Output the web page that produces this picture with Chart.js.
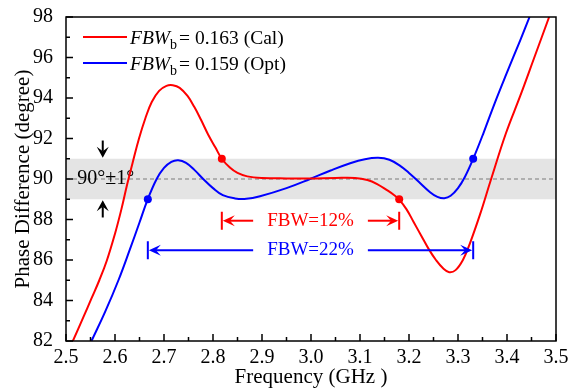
<!DOCTYPE html>
<html>
<head>
<meta charset="utf-8">
<script src="https://cdn.jsdelivr.net/npm/chart.js@4.4.1/dist/chart.umd.min.js"></script>
<style>
  html, body { margin: 0; padding: 0; background: #fff; }
</style>
</head>
<body>
<canvas id="phaseChart" width="580" height="392"></canvas>
<script>
// values
const calFreq  = [2.514, 2.535, 2.552, 2.568, 2.583, 2.600, 2.613, 2.625, 2.637, 2.649, 2.662, 2.675, 2.690, 2.705, 2.718, 2.732, 2.748, 2.762, 2.775, 2.790, 2.805, 2.818, 2.835, 2.850, 2.870, 2.900, 2.950, 3.000, 3.050, 3.090, 3.115, 3.135, 3.155, 3.170, 3.180, 3.195, 3.210, 3.225, 3.240, 3.255, 3.270, 3.282, 3.295, 3.310, 3.324, 3.345, 3.367, 3.398, 3.427, 3.455, 3.486];
const calPhase = [82.0, 83.15, 84.1, 85.0, 85.95, 87.3, 88.5, 89.75, 90.9, 92.0, 93.0, 93.8, 94.35, 94.6, 94.63, 94.5, 94.1, 93.55, 92.95, 92.2, 91.55, 91.0, 90.55, 90.3, 90.13, 90.05, 90.03, 90.03, 90.05, 90.05, 89.95, 89.75, 89.45, 89.2, 88.98, 88.5, 87.85, 87.2, 86.55, 86.0, 85.58, 85.4, 85.5, 86.0, 86.8, 88.25, 89.95, 92.27, 94.1, 95.95, 98.0];
const optFreq  = [2.552, 2.580, 2.607, 2.630, 2.650, 2.666, 2.685, 2.700, 2.715, 2.729, 2.745, 2.762, 2.780, 2.800, 2.820, 2.845, 2.868, 2.896, 2.950, 2.998, 3.040, 3.080, 3.110, 3.137, 3.160, 3.182, 3.200, 3.216, 3.243, 3.258, 3.272, 3.285, 3.300, 3.314, 3.331, 3.352, 3.375, 3.399, 3.427, 3.446];
const optPhase = [82.0, 83.45, 85.0, 86.5, 87.85, 88.95, 90.0, 90.55, 90.85, 90.93, 90.8, 90.45, 90.0, 89.55, 89.2, 89.04, 89.02, 89.15, 89.55, 90.0, 90.42, 90.78, 90.98, 91.05, 90.95, 90.65, 90.3, 89.95, 89.35, 89.12, 89.05, 89.17, 89.55, 90.1, 91.0, 92.27, 93.75, 95.2, 96.85, 98.0];

// band edge markers
const calMarkFreq  = [2.818, 3.180];
const calMarkPhase = [91, 89];
const optMarkFreq  = [2.667, 3.331];
const optMarkPhase = [89, 91];

const seriesNames  = ["= 0.163 (Cal)", "= 0.159 (Opt)"];
const seriesColors = ["#ff0000", "#0000ff"];

const xTicks = [2.5, 2.6, 2.7, 2.8, 2.9, 3.0, 3.1, 3.2, 3.3, 3.4, 3.5];
const yTicks = [82, 84, 86, 88, 90, 92, 94, 96, 98];

const bandLimits  = [89, 91];
const targetPhase = 90;
const bandLabel   = "90°±1°";
const fbwLabels   = ["FBW=12%", "FBW=22%"];
const fbwEdges    = [[2.818, 3.180], [2.667, 3.331]];
const fbwLevels   = [87.94, 86.48];

const SERIF = "'Liberation Serif', 'Times New Roman', serif";

const toPts = (fs, ps) => fs.map((f, i) => ({ x: f, y: ps[i] }));

function arrow(ctx, x0, y0, x1, y1, color, len = 12, half = 5.5) {
  const ang = Math.atan2(y1 - y0, x1 - x0);
  ctx.strokeStyle = color;
  ctx.fillStyle = color;
  ctx.lineWidth = 2;
  ctx.beginPath();
  ctx.moveTo(x0, y0);
  ctx.lineTo(x1 - Math.cos(ang) * len * 0.6, y1 - Math.sin(ang) * len * 0.6);
  ctx.stroke();
  ctx.save();
  ctx.translate(x1, y1);
  ctx.rotate(ang);
  ctx.beginPath();
  ctx.moveTo(0, 0);
  ctx.lineTo(-len, -half);
  ctx.lineTo(-len * 0.6, 0);
  ctx.lineTo(-len, half);
  ctx.closePath();
  ctx.fill();
  ctx.restore();
}

const decor = {
  id: "decor",
  beforeDatasetsDraw(chart) {
    const { ctx, chartArea: a, scales: { x, y } } = chart;
    ctx.save();
    const yHi = y.getPixelForValue(bandLimits[1]);
    const yLo = y.getPixelForValue(bandLimits[0]);
    ctx.fillStyle = "#e4e4e4";
    ctx.fillRect(a.left, yHi, a.right - a.left, yLo - yHi);

    const y90 = y.getPixelForValue(targetPhase);
    ctx.strokeStyle = "#7a7a7a";
    ctx.lineWidth = 1.2;
    ctx.setLineDash([4, 3]);
    ctx.beginPath();
    ctx.moveTo(a.left, y90);
    ctx.lineTo(a.right, y90);
    ctx.stroke();
    ctx.setLineDash([]);

    ctx.fillStyle = "#000";
    ctx.font = "20px " + SERIF;
    ctx.textBaseline = "middle";
    ctx.textAlign = "left";
    ctx.fillText(bandLabel, x.getPixelForValue(2.523), y90);

    // black arrows pointing at the band
    const ax = x.getPixelForValue(2.575);
    arrow(ctx, ax, y.getPixelForValue(91.9), ax, yHi - 1, "#000", 11, 6);
    arrow(ctx, ax, y.getPixelForValue(88.1), ax, yLo + 1, "#000", 11, 6);
    ctx.restore();
  },
  afterDraw(chart) {
    const { ctx, chartArea: a, scales: { x, y } } = chart;
    ctx.save();

    // FBW brackets
    ctx.font = "19px " + SERIF;
    ctx.textAlign = "center";
    ctx.textBaseline = "middle";
    fbwLabels.forEach((lbl, i) => {
      const col = seriesColors[i];
      const xl = x.getPixelForValue(fbwEdges[i][0]);
      const xr = x.getPixelForValue(fbwEdges[i][1]);
      const yy = y.getPixelForValue(fbwLevels[i]);
      const cx = (xl + xr) / 2;
      const tw = ctx.measureText(lbl).width;
      ctx.fillStyle = col;
      ctx.fillText(lbl, cx, yy);
      ctx.strokeStyle = col;
      ctx.lineWidth = 2;
      ctx.beginPath();
      ctx.moveTo(xl, yy - 9); ctx.lineTo(xl, yy + 9);
      ctx.moveTo(xr, yy - 9); ctx.lineTo(xr, yy + 9);
      ctx.stroke();
      arrow(ctx, cx - tw / 2 - 14, yy, xl + 1, yy, col);
      arrow(ctx, cx + tw / 2 + 14, yy, xr - 1, yy, col);
    });

    // frame
    ctx.strokeStyle = "#000";
    ctx.lineWidth = 1.5;
    ctx.strokeRect(a.left, a.top, a.right - a.left, a.bottom - a.top);

    // inward ticks on bottom and left axes
    ctx.beginPath();
    for (let v = 2.5; v <= 3.5001; v += 0.05) {
      const px = x.getPixelForValue(v);
      const major = Math.abs(v * 10 - Math.round(v * 10)) < 1e-6;
      ctx.moveTo(px, a.bottom);
      ctx.lineTo(px, a.bottom - (major ? 7 : 4));
    }
    for (let v = 82; v <= 98; v += 1) {
      const py = y.getPixelForValue(v);
      ctx.moveTo(a.left, py);
      ctx.lineTo(a.left + (v % 2 === 0 ? 7 : 4), py);
    }
    ctx.stroke();

    // legend with italic FBW and subscript b
    seriesNames.forEach((name, i) => {
      const ly = a.top + 20 + i * 26;
      const lx = a.left + 17;
      ctx.strokeStyle = seriesColors[i];
      ctx.lineWidth = 2;
      ctx.beginPath();
      ctx.moveTo(lx, ly);
      ctx.lineTo(lx + 44, ly);
      ctx.stroke();
      ctx.fillStyle = "#000";
      ctx.textAlign = "left";
      ctx.textBaseline = "alphabetic";
      let tx = lx + 47;
      const base = ly + 6.5;
      ctx.font = "italic 19.5px " + SERIF;
      ctx.fillText("FBW", tx, base);
      tx += ctx.measureText("FBW").width;
      ctx.font = "14px " + SERIF;
      ctx.fillText("b", tx, base + 5);
      tx += ctx.measureText("b").width + 2;
      ctx.font = "19.5px " + SERIF;
      ctx.fillText(name, tx, base);
    });
    ctx.restore();
  }
};

new Chart(document.getElementById("phaseChart"), {
  type: "line",
  data: {
    datasets: [
      { data: toPts(calFreq, calPhase), borderColor: seriesColors[0], borderWidth: 2, pointRadius: 0, tension: 0.4, fill: false },
      { data: toPts(optFreq, optPhase), borderColor: seriesColors[1], borderWidth: 2, pointRadius: 0, tension: 0.4, fill: false },
      { data: toPts(calMarkFreq, calMarkPhase), showLine: false, pointRadius: 4, backgroundColor: seriesColors[0], borderWidth: 0 },
      { data: toPts(optMarkFreq, optMarkPhase), showLine: false, pointRadius: 4, backgroundColor: seriesColors[1], borderWidth: 0 }
    ]
  },
  options: {
    responsive: false,
    animation: false,
    layout: { padding: { left: 0, right: 24, top: 12, bottom: 0 } },
    plugins: { legend: { display: false }, tooltip: { enabled: false } },
    scales: {
      x: {
        type: "linear",
        min: 2.5,
        max: 3.5,
        afterBuildTicks: (s) => { s.ticks = xTicks.map((v) => ({ value: v })); },
        afterFit: (s) => { s.height = 51; },
        ticks: { color: "#000", font: { family: SERIF, size: 20 }, padding: -3, maxRotation: 0, callback: (v) => v.toFixed(1) },
        grid: { display: false },
        border: { display: false },
        title: { display: true, text: "Frequency (GHz )", color: "#000", font: { family: SERIF, size: 21 }, padding: { top: 0, bottom: 2 } }
      },
      y: {
        min: 82,
        max: 98,
        afterBuildTicks: (s) => { s.ticks = yTicks.map((v) => ({ value: v })); },
        afterFit: (s) => { s.width = 66; },
        ticks: { color: "#000", font: { family: SERIF, size: 20 }, padding: 5 },
        grid: { display: false },
        border: { display: false },
        title: { display: true, text: "Phase Difference (degree)", color: "#000", font: { family: SERIF, size: 21 }, padding: { top: 11, bottom: 0 } }
      }
    }
  },
  plugins: [decor]
});
</script>
</body>
</html>
